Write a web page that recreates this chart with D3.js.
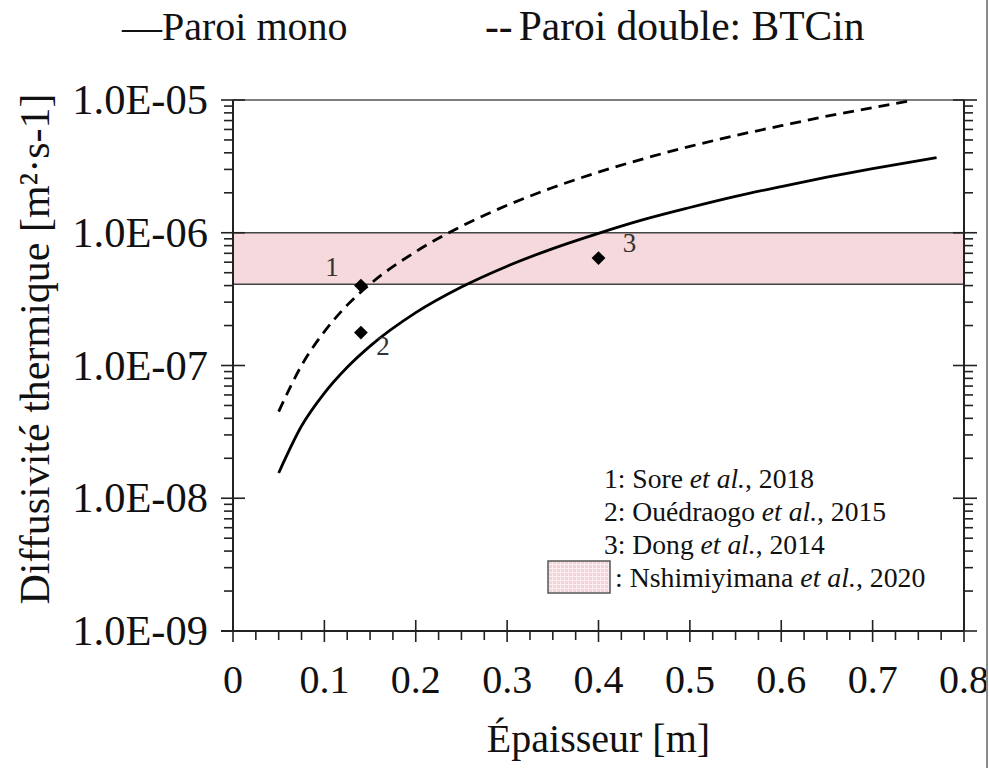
<!DOCTYPE html>
<html>
<head>
<meta charset="utf-8">
<script src="https://cdn.jsdelivr.net/npm/d3@7"></script>
<style>
  html, body { margin: 0; padding: 0; background: #fff; }
  svg { display: block; }
  text { font-family: "Liberation Serif", "DejaVu Serif", serif; fill: #111; }
</style>
</head>
<body>
<svg id="chart" width="989" height="768" font-family="Liberation Serif, serif"></svg>
<script>
// Thickness of the wall [m] and thermal diffusivity [m²/s]
const monoX   = [0.05, 0.075, 0.1, 0.125, 0.15, 0.2, 0.25, 0.3, 0.35, 0.4, 0.45, 0.5, 0.55, 0.6, 0.65, 0.7, 0.77];
const monoY   = [1.55e-8, 3.5e-8, 6.2e-8, 9.7e-8, 1.4e-7, 2.5e-7, 3.9e-7, 5.6e-7, 7.6e-7, 9.9e-7, 1.26e-6, 1.55e-6, 1.88e-6, 2.23e-6, 2.62e-6, 3.04e-6, 3.68e-6];
const doubleX = [0.05, 0.075, 0.1, 0.125, 0.15, 0.2, 0.25, 0.3, 0.35, 0.4, 0.45, 0.5, 0.55, 0.6, 0.65, 0.7, 0.745];
const doubleY = [4.5e-8, 1.0e-7, 1.8e-7, 2.85e-7, 4.1e-7, 7.2e-7, 1.12e-6, 1.61e-6, 2.19e-6, 2.86e-6, 3.62e-6, 4.47e-6, 5.4e-6, 6.4e-6, 7.55e-6, 8.75e-6, 1.0e-5];

// Literature values
const refIds = ["1", "2", "3"];
const refX   = [0.14, 0.14, 0.40];
const refY   = [4.0e-7, 1.77e-7, 6.45e-7];
const refNotes = [
  ["1: Sore ", "et al.", ", 2018"],
  ["2: Ouédraogo ", "et al.", ", 2015"],
  ["3: Dong ", "et al.", ", 2014"]
];
const bandNote = [": Nshimiyimana ", "et al.", ", 2020"];
// Range reported by Nshimiyimana et al. (2020)
const bandRange = [4.1e-7, 1.0e-6];

// Axes
const xTicks = [0, 0.1, 0.2, 0.3, 0.4, 0.5, 0.6, 0.7, 0.8];
const xTickLabels = ["0", "0.1", "0.2", "0.3", "0.4", "0.5", "0.6", "0.7", "0.8"];
const yTicks = [1e-9, 1e-8, 1e-7, 1e-6, 1e-5];
const yTickLabels = ["1.0E-09", "1.0E-08", "1.0E-07", "1.0E-06", "1.0E-05"];
const seriesNames = ["Paroi mono", "Paroi double: BTCin"];
const xTitle = "Épaisseur [m]";
const yTitle = "Diffusivité thermique [m²·s-1]";

const SERIF = "Liberation Serif, DejaVu Serif, serif";
const svg = d3.select("#chart");
const L = 233, R = 964, T = 100, B = 631;

const x = d3.scaleLinear().domain([0, 0.8]).range([L, R]);
const y = d3.scaleLog().domain([1e-9, 1e-5]).range([B, T]);

// pattern for the legend swatch
const defs = svg.append("defs");
const pat = defs.append("pattern").attr("id", "pinkgrid")
  .attr("width", 4).attr("height", 4).attr("patternUnits", "userSpaceOnUse");
pat.append("rect").attr("width", 4).attr("height", 4).attr("fill", "#f3d3d7");
pat.append("path").attr("d", "M0,0.5H4M0.5,0V4").attr("stroke", "#fbeef0").attr("stroke-width", 1);

// shaded band
svg.append("rect")
  .attr("x", L).attr("width", R - L)
  .attr("y", y(bandRange[1])).attr("height", y(bandRange[0]) - y(bandRange[1]))
  .attr("fill", "#f5d9dc");
svg.selectAll("line.band").data(bandRange).enter().append("line")
  .attr("x1", L).attr("x2", R)
  .attr("y1", d => y(d)).attr("y2", d => y(d))
  .attr("stroke", "#444").attr("stroke-width", 1.5);

// frame
svg.append("line").attr("x1", L).attr("x2", R).attr("y1", T).attr("y2", T)
  .attr("stroke", "#555").attr("stroke-width", 1.5);

// minor / major ticks
const xMinor = d3.range(0, 0.8001, 0.025).filter(v => Math.abs(v * 10 - Math.round(v * 10)) > 1e-6);
const yMinor = [];
for (let e = -9; e < -5; e++) for (let m = 2; m <= 9; m++) yMinor.push(m * Math.pow(10, e));

const tk = svg.append("g").attr("stroke", "#222").attr("stroke-width", 1.6);
// bottom
tk.selectAll(null).data(xMinor).enter().append("line")
  .attr("x1", d => x(d)).attr("x2", d => x(d)).attr("y1", B).attr("y2", B + 9);
tk.selectAll(null).data(xTicks).enter().append("line")
  .attr("x1", d => x(d)).attr("x2", d => x(d))
  .attr("y1", (d, i) => (i === 0 || i === xTicks.length - 1) ? B : B - 11).attr("y2", B + 11);
// left
tk.selectAll(null).data(yMinor).enter().append("line")
  .attr("x1", L - 9).attr("x2", L).attr("y1", d => y(d)).attr("y2", d => y(d));
tk.selectAll(null).data(yTicks).enter().append("line")
  .attr("x1", L - 12).attr("x2", (d, i) => (i === 0) ? L : L + 12).attr("y1", d => y(d)).attr("y2", d => y(d));
// right
tk.selectAll(null).data(yMinor).enter().append("line")
  .attr("x1", R).attr("x2", R + 9).attr("y1", d => y(d)).attr("y2", d => y(d));
tk.selectAll(null).data(yTicks).enter().append("line")
  .attr("x1", (d, i) => (i === 0) ? R : R - 11).attr("x2", R + 13).attr("y1", d => y(d)).attr("y2", d => y(d));

// axis lines
svg.append("line").attr("x1", L).attr("x2", L).attr("y1", T).attr("y2", B).attr("stroke", "#222").attr("stroke-width", 2);
svg.append("line").attr("x1", R).attr("x2", R).attr("y1", T).attr("y2", B).attr("stroke", "#222").attr("stroke-width", 2);
svg.append("line").attr("x1", L - 12).attr("x2", R).attr("y1", B).attr("y2", B).attr("stroke", "#222").attr("stroke-width", 2);

// tick labels
svg.selectAll("text.xt").data(xTicks).enter().append("text")
  .attr("font-family", SERIF)
  .attr("x", d => x(d)).attr("y", 693)
  .attr("text-anchor", "middle").attr("font-size", 40)
  .text((d, i) => xTickLabels[i]);
svg.selectAll("text.yt").data(yTicks).enter().append("text")
  .attr("font-family", SERIF)
  .attr("x", 208).attr("y", d => y(d) + 14)
  .attr("text-anchor", "end").attr("font-size", 42.5)
  .text((d, i) => yTickLabels[i]);

// axis titles
svg.append("text").attr("font-family", SERIF).attr("x", (L + R) / 2).attr("y", 752)
  .attr("text-anchor", "middle").attr("font-size", 40).text(xTitle);
svg.append("text").attr("font-family", SERIF).attr("transform", "translate(49,349) rotate(-90)")
  .attr("text-anchor", "middle").attr("font-size", 42).text(yTitle);

// curves
const line = d3.line().x(d => x(d[0])).y(d => y(d[1])).curve(d3.curveMonotoneX);
svg.append("path").datum(d3.zip(monoX, monoY)).attr("d", line)
  .attr("fill", "none").attr("stroke", "#000").attr("stroke-width", 2.8);
svg.append("path").datum(d3.zip(doubleX, doubleY)).attr("d", line)
  .attr("fill", "none").attr("stroke", "#000").attr("stroke-width", 2.8)
  .attr("stroke-dasharray", "11,7");

// literature points
const diamond = d3.symbol().type(d3.symbolSquare).size(95);
svg.selectAll("path.pt").data(refIds).enter().append("path")
  .attr("d", diamond)
  .attr("transform", (d, i) => `translate(${x(refX[i])},${y(refY[i])}) rotate(45)`)
  .attr("fill", "#000");
const labelDx = [-29, 22, 31];
const labelDy = [-10, 22, -6];
svg.selectAll("text.pl").data(refIds).enter().append("text")
  .attr("font-family", SERIF)
  .attr("x", (d, i) => x(refX[i]) + labelDx[i])
  .attr("y", (d, i) => y(refY[i]) + labelDy[i])
  .attr("text-anchor", "middle").attr("font-size", 27).style("fill", "#333")
  .text(d => d);

// reference notes
const notes = svg.append("g").attr("font-family", SERIF);
refNotes.forEach((n, i) => {
  const t = notes.append("text").attr("x", 604).attr("y", [488, 521, 554][i]).attr("font-size", 27.6);
  t.append("tspan").text(n[0]);
  t.append("tspan").attr("font-style", "italic").text(n[1]);
  t.append("tspan").text(n[2]);
});
notes.append("rect").attr("x", 548).attr("y", 561).attr("width", 62).attr("height", 32)
  .attr("fill", "url(#pinkgrid)").attr("stroke", "#555").attr("stroke-width", 1.5);
{
  const t = notes.append("text").attr("x", 615).attr("y", 587).attr("font-size", 27.8);
  t.append("tspan").text(bandNote[0]);
  t.append("tspan").attr("font-style", "italic").text(bandNote[1]);
  t.append("tspan").text(bandNote[2]);
}

// series legend
const leg = svg.append("g").attr("font-family", SERIF);
leg.append("text").attr("x", 122).attr("y", 40).attr("font-size", 40)
  .text("\u2014" + seriesNames[0]);
{
  const t = leg.append("text").attr("x", 485).attr("y", 40).attr("font-size", 41.5);
  t.append("tspan").text("--");
  t.append("tspan").attr("dx", 6).text(seriesNames[1]);
}

// right border of the figure
svg.append("line").attr("x1", 987).attr("x2", 987).attr("y1", 0).attr("y2", 768)
  .attr("stroke", "#8a8a8a").attr("stroke-width", 2);
</script>
</body>
</html>
